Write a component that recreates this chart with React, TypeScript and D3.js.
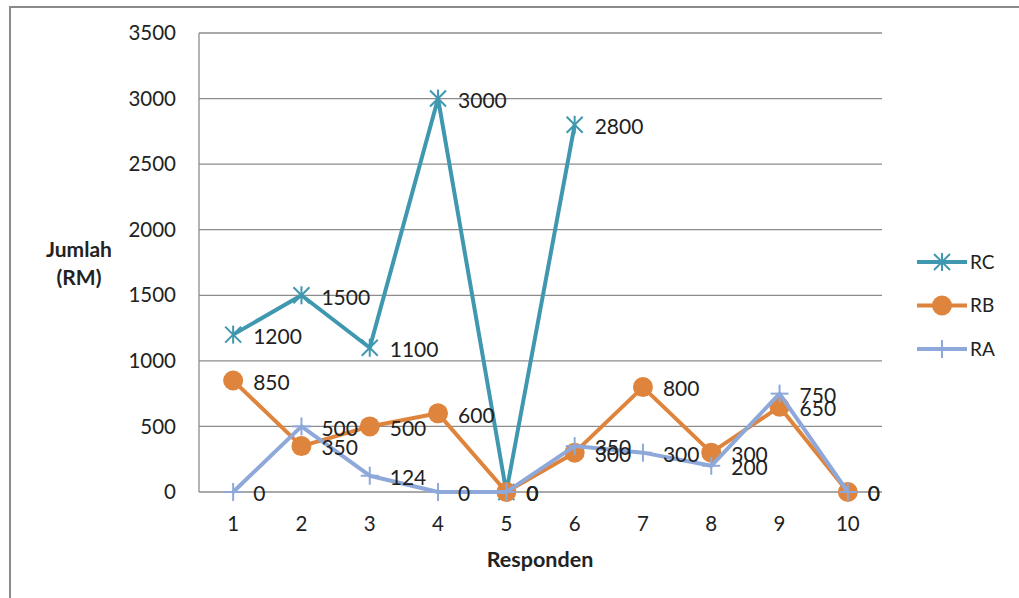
import React from "react";
import * as d3 from "d3";

const categories = ["1", "2", "3", "4", "5", "6", "7", "8", "9", "10"];
const rcValues: (number | null)[] = [1200, 1500, 1100, 3000, 0, 2800, null, null, null, null];
const rbValues: (number | null)[] = [850, 350, 500, 600, 0, 300, 800, 300, 650, 0];
const raValues: (number | null)[] = [0, 500, 124, 0, 0, 350, 300, 200, 750, 0];
const yTicks = [0, 500, 1000, 1500, 2000, 2500, 3000, 3500];

const seriesList = [
  { name: "RC", values: rcValues, color: "#3F98AF", marker: "star" },
  { name: "RB", values: rbValues, color: "#DE843C", marker: "circle" },
  { name: "RA", values: raValues, color: "#8EA9D9", marker: "plus" },
];

const W = 1019;
const H = 598;
const plot = { left: 199, right: 882, top: 33, bottom: 492 };
const FONT = "Lato, 'Open Sans', sans-serif";

function Marker({ type, x, y, color }: { type: string; x: number; y: number; color: string }) {
  if (type === "circle") return <circle cx={x} cy={y} r={10} fill={color} />;
  if (type === "plus") {
    const s = 9;
    return (
      <g stroke={color} strokeWidth={2}>
        <line x1={x - s} y1={y} x2={x + s} y2={y} />
        <line x1={x} y1={y - s} x2={x} y2={y + s} />
      </g>
    );
  }
  const s = 8;
  return (
    <g stroke={color} strokeWidth={2}>
      <line x1={x} y1={y - s - 1} x2={x} y2={y + s + 1} />
      <line x1={x - s} y1={y - s} x2={x + s} y2={y + s} />
      <line x1={x - s} y1={y + s} x2={x + s} y2={y - s} />
    </g>
  );
}

export default function App() {
  const x = d3.scaleBand<string>().domain(categories).range([plot.left, plot.right]);
  const y = d3.scaleLinear().domain([0, 3500]).range([plot.bottom, plot.top]);
  const cx = (c: string) => (x(c) as number) + x.bandwidth() / 2;

  const line = d3
    .line<{ c: string; v: number | null }>()
    .defined((d) => d.v !== null)
    .x((d) => cx(d.c))
    .y((d) => y(d.v as number));

  return (
    <svg
      width={W}
      height={H}
      style={{ position: "absolute", left: 0, top: 0, background: "#fff" }}
      fontFamily={FONT}
    >
      <rect x={0} y={0} width={W} height={H} fill="#fff" />
      {/* outer frame */}
      <rect x={10} y={7} width={W + 20} height={H + 20} fill="none" stroke="#8a8a8a" strokeWidth={2} />

      {/* gridlines */}
      {yTicks.map((t) => (
        <line key={t} x1={plot.left} x2={plot.right} y1={y(t)} y2={y(t)} stroke="#8c8c8c" strokeWidth={1.3} />
      ))}
      <line x1={plot.left} x2={plot.left} y1={plot.top} y2={plot.bottom} stroke="#8c8c8c" strokeWidth={1.3} />

      {/* y tick labels */}
      {yTicks.map((t) => (
        <text key={t} x={176} y={y(t)} dy="0.35em" textAnchor="end" fontSize={20.5} fill="#222">
          {t}
        </text>
      ))}
      {/* x tick labels */}
      {categories.map((c) => (
        <text key={c} x={cx(c)} y={524} dy="0.35em" textAnchor="middle" fontSize={20.5} fill="#222">
          {c}
        </text>
      ))}

      {/* axis titles */}
      <text x={79} y={257} textAnchor="middle" fontSize={21} fontWeight="bold" fill="#222">
        Jumlah
      </text>
      <text x={79} y={285} textAnchor="middle" fontSize={21} fontWeight="bold" fill="#222">
        (RM)
      </text>
      <text x={540} y={567} textAnchor="middle" fontSize={21.5} fontWeight="bold" fill="#222">
        Responden
      </text>

      {/* series */}
      {seriesList.map((s) => {
        const pts = categories.map((c, i) => ({ c, v: s.values[i] }));
        return (
          <g key={s.name}>
            <path d={line(pts) || ""} fill="none" stroke={s.color} strokeWidth={4} strokeLinejoin="round" />
            {pts
              .filter((p) => p.v !== null)
              .map((p) => (
                <Marker key={p.c} type={s.marker} x={cx(p.c)} y={y(p.v as number)} color={s.color} />
              ))}
          </g>
        );
      })}
      {/* data labels */}
      {seriesList.map((s) =>
        categories.map((c, i) =>
          s.values[i] === null ? null : (
            <text
              key={s.name + c}
              x={cx(c) + 20}
              y={y(s.values[i] as number) + 2}
              dy="0.35em"
              fontSize={21}
              fill="#222"
            >
              {s.values[i]}
            </text>
          )
        )
      )}

      {/* legend */}
      {seriesList.map((s, i) => {
        const ly = 262 + i * 43.5;
        return (
          <g key={s.name}>
            <line x1={917} x2={967} y1={ly} y2={ly} stroke={s.color} strokeWidth={4} />
            <Marker type={s.marker} x={942} y={ly} color={s.color} />
            <text x={970} y={ly} dy="0.35em" fontSize={19} fill="#222">
              {s.name}
            </text>
          </g>
        );
      })}
    </svg>
  );
}
